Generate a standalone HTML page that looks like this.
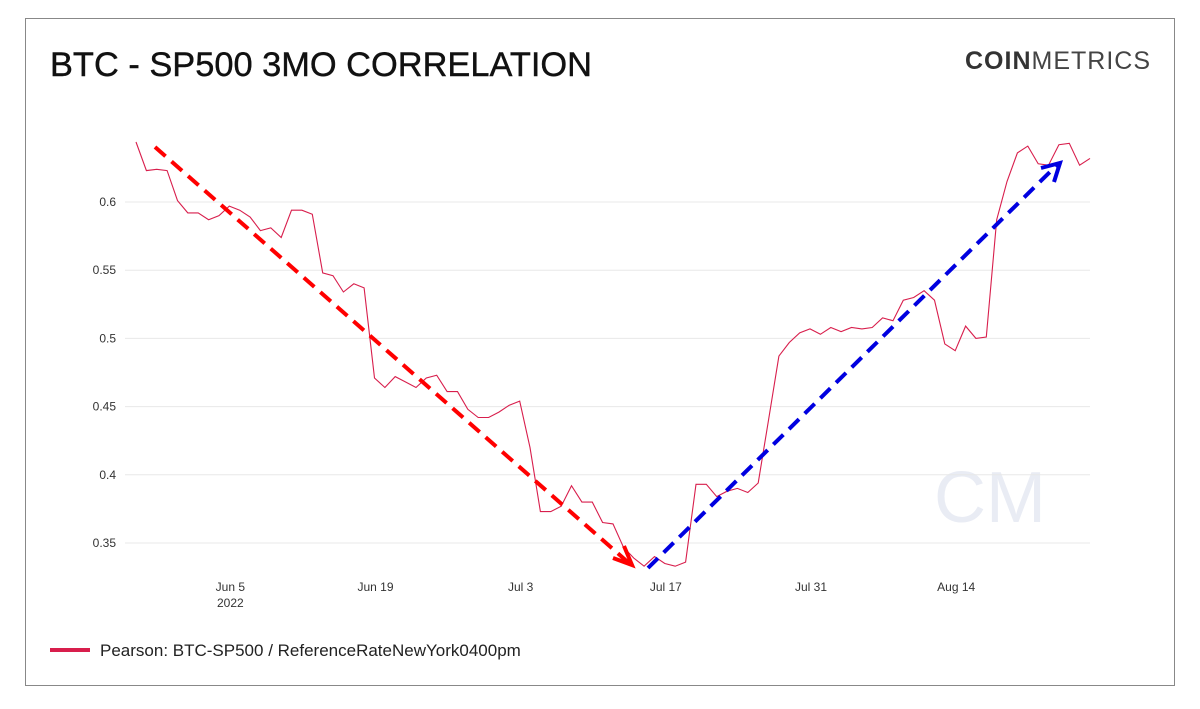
<!DOCTYPE html>
<html><head><meta charset="utf-8"><style>
body{margin:0;background:#fff;font-family:"Liberation Sans",sans-serif;}
svg{display:block}
</style></head><body>
<svg width="1200" height="709" viewBox="0 0 1200 709">
<rect x="25.5" y="18.5" width="1149" height="667" fill="#fff" stroke="#888"/>
<text x="50" y="76" font-size="34" fill="#111" stroke="#111" stroke-width="0.4" textLength="542" lengthAdjust="spacingAndGlyphs">BTC - SP500 3MO CORRELATION</text>
<text x="965" y="69" font-size="25" fill="#333" letter-spacing="1"><tspan font-weight="bold">COIN</tspan><tspan font-weight="normal" fill="#444">METRICS</tspan></text>
<text x="990" y="522" font-size="72" fill="#e9ecf4" text-anchor="middle">CM</text>
<g id="grid"></g>
<g id="ylabels"></g>
<g id="xlabels"></g>
<path id="series" fill="none" stroke="#d81e4c" stroke-width="1.1"/>
<line x1="155" y1="147" x2="630" y2="564" stroke="red" stroke-width="4" stroke-dasharray="14,8"/>
<path d="M613,558 L632,565 L624,546" fill="none" stroke="red" stroke-width="4"/>
<line x1="648" y1="568" x2="1058" y2="164" stroke="#0000e0" stroke-width="4" stroke-dasharray="14,8"/>
<path d="M1041,168 L1060,163 L1054,182" fill="none" stroke="#0000e0" stroke-width="4"/>
<line x1="50" y1="650" x2="90" y2="650" stroke="#d81e4c" stroke-width="4"/>
<text x="100" y="656" font-size="17" fill="#222">Pearson: BTC-SP500 / ReferenceRateNewYork0400pm</text>
</svg>
<script>
const yTicks=[0.35,0.4,0.45,0.5,0.55,0.6];
const yTickLabels=["0.35","0.4","0.45","0.5","0.55","0.6"];
const xTickDays=[9,23,37,51,65,79];
const xTickLabels=["Jun 5","Jun 19","Jul 3","Jul 17","Jul 31","Aug 14"];
const values=[0.644,0.623,0.624,0.623,0.601,0.592,0.592,0.587,0.590,0.597,0.594,0.589,0.579,0.581,0.574,0.594,0.594,0.591,0.548,0.546,0.534,0.540,0.537,0.471,0.464,0.472,0.468,0.464,0.471,0.473,0.461,0.461,0.448,0.442,0.442,0.446,0.451,0.454,0.420,0.373,0.373,0.377,0.392,0.380,0.380,0.365,0.364,0.347,0.339,0.333,0.340,0.335,0.333,0.336,0.393,0.393,0.384,0.388,0.390,0.387,0.394,0.440,0.487,0.497,0.504,0.507,0.503,0.508,0.505,0.508,0.507,0.508,0.515,0.513,0.528,0.530,0.535,0.528,0.496,0.491,0.509,0.500,0.501,0.587,0.615,0.636,0.641,0.628,0.627,0.642,0.643,0.627,0.632];
const NS="http://www.w3.org/2000/svg";
const n=values.length;
function xs(d){return 136+d*(1090-136)/(n-1);}
function ys(v){return 202+(0.6-v)/0.05*68.2;}
const grid=document.getElementById('grid'),yl=document.getElementById('ylabels'),xl=document.getElementById('xlabels');
yTicks.forEach((t,i)=>{
 const l=document.createElementNS(NS,'line');
 l.setAttribute('x1',125);l.setAttribute('x2',1090);l.setAttribute('y1',ys(t));l.setAttribute('y2',ys(t));
 l.setAttribute('stroke','#e8e8e8');
 
 
 grid.appendChild(l);
 const tx=document.createElementNS(NS,'text');
 tx.setAttribute('x',116);tx.setAttribute('y',ys(t)+4);tx.setAttribute('text-anchor','end');
 tx.setAttribute('font-size','12');tx.setAttribute('fill','#333');
 tx.textContent=yTickLabels[i];
 
 
 yl.appendChild(tx);
});
xTickDays.forEach((d,i)=>{
 const tx=document.createElementNS(NS,'text');
 tx.setAttribute('x',xs(d)+1);tx.setAttribute('y',591);tx.setAttribute('text-anchor','middle');
 tx.setAttribute('font-size','12');tx.setAttribute('fill','#333');
 tx.textContent=xTickLabels[i];
 
 
 xl.appendChild(tx);
});
const yr=document.createElementNS(NS,'text');
yr.setAttribute('x',xs(9)+1);yr.setAttribute('y',607);yr.setAttribute('text-anchor','middle');
yr.setAttribute('font-size','12');yr.setAttribute('fill','#333');yr.textContent='2022';


xl.appendChild(yr);
document.getElementById('series').setAttribute('d',values.map((v,i)=>(i?'L':'M')+xs(i).toFixed(1)+','+ys(v).toFixed(1)).join(' '));
</script>
</body></html>
